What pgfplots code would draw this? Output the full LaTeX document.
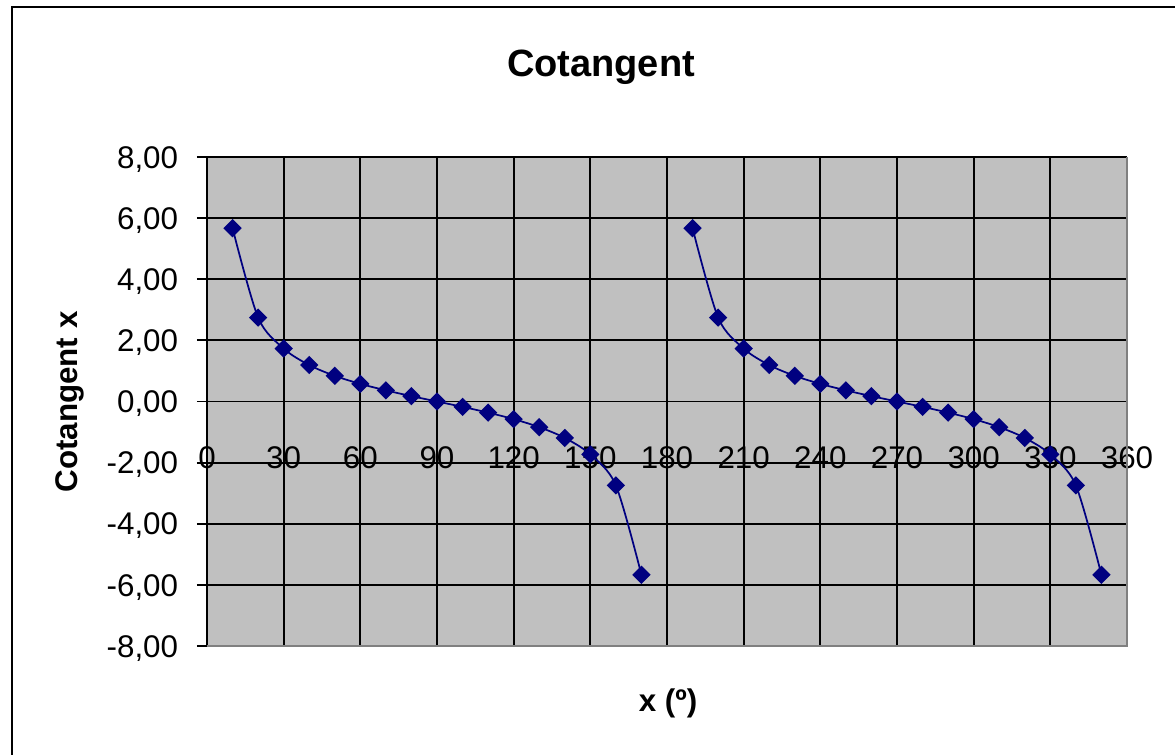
\documentclass[border=0pt]{standalone}
\usepackage{pgfplots}
\pgfplotsset{compat=1.18}
\usepackage{fontspec}
\setmainfont{Liberation Sans}
\definecolor{plotgray}{HTML}{C0C0C0}
\definecolor{framegray}{HTML}{808080}
\definecolor{navy}{HTML}{000080}
\begin{document}
\begin{tikzpicture}
\path[use as bounding box] (0,0) rectangle (881.25pt,566.25pt);
\draw[line width=1.5pt] (9pt,-5pt) -- (9pt,560.75pt) -- (890pt,560.75pt);
\begin{axis}[
  scale only axis,
  width=690pt, height=366.75pt,
  at={(155.25pt,81.75pt)}, anchor=south west,
  xmin=0, xmax=360, ymin=-8, ymax=8,
  xtick={0,30,...,360}, ytick={-8,-6,...,8},
  axis x line=middle, axis y line=left,
  axis line style={-, line width=1.4pt, black},
  hide obscured x ticks=false,
  hide obscured y ticks=false,
  tick align=outside,
  major tick length=7.5pt,
  tick style={line width=1.4pt, black},
  grid=major,
  major grid style={line width=1.4pt, black},
  axis background/.style={fill=plotgray},
  /pgf/number format/assume math mode=true,
  font=\fontsize{23.5pt}{28pt}\selectfont,
  xticklabel style={anchor=base, inner sep=0pt, yshift=-43pt},
  yticklabel style={anchor=base east, inner sep=0pt, xshift=-14pt, yshift=-8.4pt,
    /pgf/number format/.cd, fixed, fixed zerofill, precision=2, use comma},
  xticklabel={\pgfmathprintnumber[assume math mode=true]{\tick}},
  clip=false,
]
\addplot[navy, line width=1.3pt, smooth, mark=square*, mark size=4.2pt,
  mark options={rotate=45, fill=navy, draw=navy}] coordinates {
(10,5.671) (20,2.747) (30,1.732) (40,1.192) (50,0.839) (60,0.577) (70,0.364)
(80,0.176) (90,0) (100,-0.176) (110,-0.364) (120,-0.577) (130,-0.839)
(140,-1.192) (150,-1.732) (160,-2.747) (170,-5.671)};
\addplot[navy, line width=1.3pt, smooth, mark=square*, mark size=4.2pt,
  mark options={rotate=45, fill=navy, draw=navy}] coordinates {
(190,5.671) (200,2.747) (210,1.732) (220,1.192) (230,0.839) (240,0.577) (250,0.364)
(260,0.176) (270,0) (280,-0.176) (290,-0.364) (300,-0.577) (310,-0.839)
(320,-1.192) (330,-1.732) (340,-2.747) (350,-5.671)};
\draw[framegray, line width=1.6pt] (rel axis cs:0,0) -- (rel axis cs:1,0) -- (rel axis cs:1,1);
\end{axis}
\node[font=\bfseries\fontsize{28.5pt}{34pt}\selectfont] at (450.75pt,516pt) {Cotangent};
\node[font=\bfseries\fontsize{23.5pt}{28pt}\selectfont, rotate=90] at (52.5pt,264.75pt) {Cotangent x};
\node[font=\bfseries\fontsize{23.5pt}{28pt}\selectfont] at (501pt,39pt) {x (º)};
\end{tikzpicture}
\end{document}
